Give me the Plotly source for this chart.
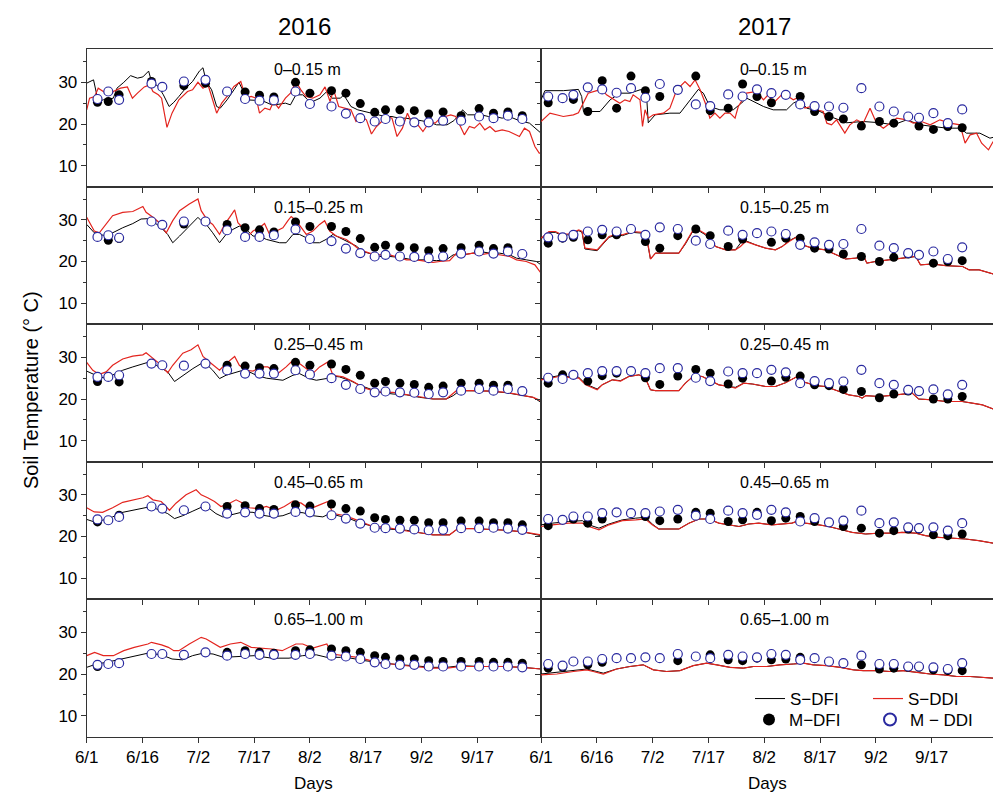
import plotly.graph_objects as go
from plotly.subplots import make_subplots

W, H = 993, 792
FONT = "Liberation Sans, Arial, sans-serif"

# ---------------- tick labels / categories ----------------
TICK_DAYS = [0, 15.5, 31, 46.5, 62, 77.5, 93, 108.5]
TICK_LABELS = ["6/1", "6/16", "7/2", "7/17", "8/2", "8/17", "9/2", "9/17"]
DEPTHS = ["0\u20130.15 m", "0.15\u20130.25 m", "0.25\u20130.45 m", "0.45\u20130.65 m", "0.65\u20131.00 m"]
YEARS = ["2016", "2017"]

# measurement days (days after 6/1)
DAYS_2016 = [3, 6, 9, 18, 21, 27, 33, 39, 44, 48, 52, 58, 62, 68, 72, 76, 80, 83, 87, 91, 95, 99, 104, 109, 113, 117, 121]
DAYS_2017 = [2, 6, 9, 13, 17, 21, 25, 29, 33, 38, 43, 47, 52, 56, 60, 64, 68, 72, 76, 80, 84, 89, 94, 98, 102, 105, 109, 113, 117]

# ---------------- 2016, 0-0.15 m ----------------
S_DFI_16_1 = [(0,29.8),(1.9,30.6),(3.2,25.4),(4.6,25.8),(7.4,26.2),(8.4,28.6),(10.3,30.0),(12.2,31.6),(14.1,31.0),(15.6,31.3),(17.2,32.7),(18.0,30.2),(19.9,29.0),(21.3,27.0),(22.9,24.2),(24.2,25.2),(25.6,26.6),(27.5,28.6),(29.4,30.2),(31.3,32.7),(32.3,33.5),(33.2,30.2),(34.7,28.2),(36.1,24.2),(37.1,23.8),(39.0,25.8),(40.9,28.2),(42.3,30.0),(43.3,28.2),(44.2,25.8),(46.6,25.7),(48.5,25.7),(51.4,24.6),(52.3,24.6),(55.2,25.0),(56.6,24.6),(58.1,27.0),(60.0,27.0),(61.4,25.8),(62.8,25.4),(64.8,26.2),(66.7,27.8),(68.1,26.2),(70.5,26.2),(71.4,27.0),(73.4,24.2),(75.3,23.4),(77.2,23.0),(79.1,22.6),(81.0,22.2),(82.9,21.8),(84.8,21.8),(86.7,21.4),(88.6,21.4),(90.5,21.2),(92.9,20.8),(95.3,20.4),(97.2,19.8),(100.1,19.8),(102.0,20.8),(103.9,22.6),(104.4,23.4),(105.8,22.2),(107.7,22.2),(109.6,22.2),(111.6,21.8),(113.5,21.8),(115.4,21.4),(117.3,21.8),(120.2,20.8),(123.0,20.2),(126.2,17.8)]
S_DDI_16_1 = [(0,23.4),(0.8,26.2),(2.2,26.6),(3.2,28.6),(4.6,27.8),(6.5,27.0),(7.4,27.8),(9.4,28.6),(11.3,28.9),(12.7,26.2),(14.1,27.4),(16.0,28.9),(17.5,29.4),(18.4,27.8),(19.9,27.0),(20.8,26.2),(22.3,19.2),(23.7,22.6),(25.6,25.8),(26.6,26.6),(28.0,27.8),(29.4,28.2),(30.9,30.0),(32.3,28.6),(33.7,29.4),(34.7,26.6),(36.1,22.6),(37.5,25.0),(39.0,26.6),(40.9,29.0),(42.8,30.2),(44.2,26.2),(45.7,26.6),(47.1,26.2),(48.0,22.6),(49.5,23.8),(50.9,23.4),(51.9,25.4),(53.3,23.8),(55.2,26.2),(56.6,27.4),(58.1,30.2),(59.5,28.2),(60.9,26.6),(62.8,26.2),(64.8,27.0),(66.2,28.9),(67.6,25.4),(68.6,28.2),(70.0,24.2),(71.4,23.8),(73.4,23.4),(74.8,20.6),(76.2,21.8),(77.7,21.0),(79.1,17.6),(80.5,19.4),(81.9,20.6),(83.4,21.8),(84.8,21.4),(86.2,17.0),(87.7,19.0),(89.1,22.6),(90.5,19.8),(92.0,19.8),(93.4,18.2),(95.3,20.6),(96.8,20.2),(98.2,21.4),(99.6,21.8),(101.1,22.2),(102.5,21.8),(103.9,19.4),(104.9,17.4),(106.3,19.4),(107.7,19.0),(109.2,20.2),(110.6,18.6),(112.0,19.4),(113.5,18.2),(115.4,18.6),(117.3,18.2),(119.2,17.4),(120.2,17.0),(121.6,19.0),(123.0,18.2),(124.5,14.6),(125.7,13.0),(126.2,13.0)]
M_DFI_16_1 = [25.2,25.4,27.0,30.2,None,29.2,29.8,None,27.7,26.9,26.5,30.0,27.4,28.0,27.4,24.9,22.8,23.4,23.4,23.2,22.4,22.9,22.0,23.7,22.6,22.9,22.0]
M_DDI_16_1 = [26.0,27.8,25.8,29.7,28.9,30.2,30.6,27.8,26.0,25.6,25.7,27.8,24.8,24.2,22.5,21.4,20.6,21.2,20.6,20.4,20.4,20.8,20.8,21.8,21.4,22.0,21.2]

# ---------------- 2017, 0-0.15 m ----------------
S_DFI_17_1 = [(0,25.8),(1.1,28.0),(6.2,28.0),(10.4,28.3),(11.3,26.6),(11.8,23.0),(16.4,23.0),(19.2,25.8),(21.9,27.4),(24.7,27.4),(27.5,28.2),(28.9,28.3),(29.4,25.8),(29.8,20.3),(31.7,22.2),(35.8,22.6),(38.6,22.6),(41.4,25.8),(43.7,28.3),(45.1,27.4),(46.9,24.2),(49.7,23.4),(53.4,23.4),(56.2,25.4),(57.1,26.2),(58.1,25.8),(61.8,24.2),(64.5,23.4),(68.2,23.4),(70.1,25.0),(71.9,25.8),(73.8,23.8),(77.5,23.0),(80.3,21.8),(84.9,20.3),(89.5,20.6),(94.2,20.3),(97.9,19.8),(101.6,21.0),(105.3,19.8),(109.0,19.4),(112.7,19.0),(116.4,19.0),(118.2,17.8),(121.9,17.8),(124.7,16.6),(125.6,16.8)]
S_DDI_17_1 = [(0,20.6),(2.5,22.6),(6.2,21.8),(9.0,22.2),(10.4,22.7),(11.8,25.0),(13.1,27.4),(15.5,28.0),(16.9,28.3),(18.2,27.0),(20.6,25.8),(21.9,25.0),(23.3,25.8),(24.7,25.4),(25.6,27.0),(27.5,25.8),(28.2,19.4),(28.9,23.4),(29.8,21.4),(31.2,22.2),(34.0,22.6),(35.8,23.8),(37.7,28.2),(40.0,30.2),(41.4,29.0),(42.8,30.6),(44.2,28.2),(46.0,24.2),(46.9,21.4),(48.3,22.6),(49.7,21.4),(51.1,22.6),(52.5,22.6),(53.9,21.4),(54.8,24.2),(57.1,27.4),(59.9,27.8),(61.8,25.8),(63.1,27.0),(64.5,25.0),(67.3,27.4),(70.1,25.8),(71.9,26.6),(73.3,23.8),(75.2,24.2),(76.6,23.4),(78.4,23.0),(79.4,20.2),(80.7,19.8),(82.1,21.0),(84.4,17.8),(85.8,19.8),(87.7,21.0),(89.5,20.2),(91.4,23.8),(93.2,20.2),(95.1,19.0),(96.9,20.2),(98.8,21.4),(101.6,21.0),(103.4,20.2),(105.7,20.6),(108.1,19.8),(110.8,21.0),(113.6,20.2),(116.4,19.8),(117.8,15.4),(119.2,17.4),(121.0,17.8),(122.4,15.4),(124.3,13.8),(125.6,15.8)]
M_DFI_17_1 = [25.1,None,25.9,23.0,30.4,23.8,31.5,28.0,26.6,28.3,31.5,23.2,23.8,29.6,26.6,25.1,None,26.6,23.0,21.8,21.2,19.5,20.6,20.2,None,19.5,18.7,19.4,19.1]
M_DDI_17_1 = [26.6,26.2,27.0,28.8,28.3,27.5,28.6,26.3,29.6,28.2,24.7,24.3,27.1,26.6,28.3,27.4,27.0,24.7,24.3,24.2,23.9,28.6,24.2,23.0,21.8,21.5,22.6,20.2,23.5]

# ---------------- 2016, 0.15-0.25 m ----------------
S_DFI_16_2 = [(0,28.9),(2.1,26.9),(5.4,26.1),(7.2,26.9),(10.0,28.1),(12.8,29.1),(15.1,30.2),(17.4,30.3),(18.8,29.3),(20.7,28.1),(22.5,26.5),(23.9,24.5),(25.8,26.1),(27.6,27.7),(29.5,29.3),(30.9,30.6),(31.8,29.8),(33.2,28.9),(35.0,26.9),(36.9,24.5),(38.7,26.5),(40.6,27.7),(42.4,28.5),(44.3,27.7),(46.2,26.1),(48.0,26.1),(49.9,25.3),(51.7,24.9),(53.6,24.5),(55.4,24.5),(57.3,26.5),(59.1,26.5),(61.0,25.7),(62.8,24.5),(64.7,24.5),(66.5,25.3),(68.4,26.5),(71.2,25.3),(73.0,24.5),(74.9,23.7),(76.7,22.4),(79.5,21.6),(81.4,21.2),(84.2,21.2),(86.9,21.0),(90.6,20.4),(94.3,20.4),(97.1,20.2),(99.9,20.4),(101.8,21.6),(104.5,21.6),(107.3,22.0),(109.2,22.4),(112.0,22.0),(114.7,22.0),(117.5,21.6),(119.4,20.8),(122.1,20.4),(124.9,20.0),(126.2,19.2)]
S_DDI_16_2 = [(0,30.6),(2.1,27.3),(3.5,26.9),(5.4,28.9),(7.2,31.0),(10.0,31.8),(12.8,32.0),(15.6,33.2),(16.5,31.8),(18.4,30.6),(20.2,29.3),(22.1,26.9),(23.9,29.8),(25.8,32.2),(28.5,33.8),(30.9,35.0),(31.8,32.2),(33.6,29.8),(35.0,28.9),(36.9,26.5),(38.3,28.9),(39.7,30.6),(41.1,32.4),(42.0,29.3),(43.4,28.1),(44.8,26.1),(46.2,27.3),(48.0,28.1),(49.4,29.1),(50.8,26.5),(52.6,27.3),(54.5,28.1),(55.9,29.8),(56.8,30.8),(58.2,29.8),(59.6,28.1),(61.0,26.5),(62.8,27.3),(64.7,28.9),(66.1,29.8),(67.5,27.3),(69.3,26.1),(72.1,25.3),(74.0,24.1),(75.8,22.8),(78.6,22.0),(81.4,21.6),(84.2,21.6),(86.0,21.2),(88.8,20.4),(91.6,20.4),(94.3,20.0),(96.2,19.8),(98.1,20.0),(100.8,20.2),(102.7,22.0),(104.5,21.6),(107.3,22.0),(109.2,21.6),(112.0,22.0),(114.7,21.6),(117.5,21.2),(119.4,20.4),(122.1,20.0),(124.5,19.2),(126.2,17.2)]
M_DFI_16_2 = [None,25.1,25.5,None,None,29.0,29.6,28.9,28.1,27.6,27.1,29.5,28.4,28.4,27.2,25.5,23.4,23.9,23.5,23.3,22.6,23.1,23.3,23.9,23.1,23.3,None]
M_DDI_16_2 = [25.9,26.3,25.7,29.6,28.8,29.6,29.6,27.5,25.9,25.9,26.3,27.7,25.4,24.9,23.1,22.0,21.2,21.6,21.2,21.1,20.8,21.2,21.9,22.4,21.9,22.4,21.8]

# ---------------- 2017, 0.15-0.25 m ----------------
S_DFI_17_2 = [(0,25.4),(2.2,27.0),(4.0,27.0),(5.4,26.4),(7.7,26.4),(10.5,27.4),(11.4,27.0),(12.2,23.0),(15.6,22.6),(17.0,24.0),(18.9,25.8),(21.2,26.4),(22.6,26.2),(25.3,27.0),(28.1,26.8),(29.5,25.0),(30.4,20.6),(31.8,22.0),(38.3,22.0),(40.1,24.2),(42.0,27.0),(43.8,27.4),(45.7,26.4),(46.6,25.4),(48.5,23.6),(51.3,22.8),(54.0,22.8),(55.4,24.4),(56.8,25.0),(59.6,24.0),(62.4,23.2),(65.1,22.8),(67.0,23.6),(68.9,25.0),(71.2,26.0),(72.6,24.0),(75.3,23.2),(79.0,22.8),(81.8,21.6),(84.6,20.6),(87.4,20.8),(89.7,21.2),(90.5,19.6),(92.9,20.0),(96.6,20.4),(100.3,20.8),(104.1,21.2),(105.4,19.2),(108.7,19.4),(112.4,19.0),(115.2,18.8),(117.1,18.8),(118.9,18.0),(121.7,18.0),(125.6,17.0)]
S_DDI_17_2 = [(0,25.6),(2.2,27.2),(4.0,27.2),(5.4,26.6),(7.7,26.6),(10.5,27.6),(11.4,27.2),(12.2,23.2),(15.6,22.8),(17.0,24.2),(18.9,26.0),(21.2,26.6),(22.6,26.4),(25.3,27.2),(28.1,27.0),(29.5,25.2),(30.4,20.6),(31.8,22.0),(38.3,22.0),(40.1,24.4),(42.0,27.2),(43.8,27.6),(45.7,26.6),(46.6,25.6),(48.5,23.6),(51.3,22.8),(54.0,22.8),(55.4,23.6),(56.8,24.8),(59.6,24.0),(62.4,23.2),(65.1,22.8),(67.0,23.6),(68.9,24.8),(71.2,26.0),(72.6,24.0),(75.3,23.2),(79.0,22.8),(81.8,21.6),(84.6,20.6),(87.4,20.8),(89.7,21.2),(90.5,19.6),(92.9,20.0),(96.6,20.4),(100.3,20.8),(104.1,21.2),(105.4,19.2),(108.7,19.4),(112.4,19.0),(115.2,18.8),(117.1,18.8),(118.9,18.0),(121.7,18.0),(125.6,17.0)]
M_DFI_17_2 = [24.4,25.6,25.8,25.2,26.4,26.4,None,24.8,23.2,26.2,27.8,26.2,23.6,25.4,None,24.6,25.6,25.6,23.2,23.0,21.8,21.2,20.0,21.0,21.8,21.6,19.6,20.0,20.2]
M_DDI_17_2 = [25.8,25.8,26.4,27.2,27.6,27.2,27.8,26.4,28.2,27.8,25.0,24.2,27.4,26.4,26.8,27.2,26.6,24.0,24.6,24.0,24.2,27.8,23.8,23.2,22.0,21.6,22.4,20.6,23.4]

# ---------------- 2016, 0.25-0.45 m ----------------
S_DFI_16_3 = [(0,26.7),(1.7,26.1),(3.5,25.3),(5.4,25.0),(7.2,25.7),(10.0,26.9),(12.8,27.7),(15.6,28.5),(17.4,28.9),(19.3,28.1),(21.1,27.3),(22.5,26.5),(24.4,24.2),(26.7,25.7),(29.5,27.3),(31.8,28.5),(33.6,28.1),(35.0,26.9),(36.9,24.9),(38.7,25.7),(41.5,26.5),(43.4,26.9),(45.2,26.5),(47.1,25.7),(49.9,25.0),(52.6,24.7),(54.5,24.5),(57.3,25.7),(59.1,26.1),(61.9,24.9),(63.8,24.5),(66.5,24.9),(68.4,25.5),(70.2,25.3),(73.0,24.5),(75.8,23.3),(78.6,22.4),(81.4,21.6),(85.1,21.2),(88.8,21.0),(92.5,20.4),(96.2,20.0),(99.9,20.0),(101.8,20.8),(103.6,22.0),(107.3,22.0),(112.0,21.9),(116.6,21.5),(120.3,21.0),(124.0,20.4),(126.2,19.2)]
S_DDI_16_3 = [(0,28.8),(1.7,26.9),(3.5,25.9),(5.4,26.5),(7.2,28.1),(10.0,29.6),(12.8,30.3),(15.6,30.6),(16.5,31.1),(17.9,30.2),(20.2,28.5),(22.5,26.3),(23.9,28.1),(26.7,31.0),(29.0,31.8),(30.9,33.0),(32.3,30.2),(34.1,28.9),(36.0,27.5),(36.9,26.9),(38.7,28.5),(41.1,30.2),(42.4,28.1),(44.3,26.9),(46.2,26.7),(48.5,27.7),(50.3,27.7),(53.1,26.1),(55.4,27.7),(57.3,29.3),(59.1,28.5),(61.0,27.3),(62.8,26.1),(64.7,27.7),(67.0,28.9),(68.4,25.7),(71.2,25.3),(74.0,24.2),(76.7,22.8),(79.5,22.0),(82.3,21.6),(85.1,21.6),(87.9,21.2),(90.6,20.8),(93.4,20.4),(96.2,20.0),(99.9,20.0),(102.7,22.0),(107.3,22.0),(112.0,21.9),(116.6,21.6),(120.3,21.0),(124.0,20.4),(126.2,19.6)]
M_DFI_16_3 = [24.2,None,24.1,None,None,None,None,28.1,27.9,27.5,27.3,28.8,28.1,28.4,27.1,25.7,23.8,24.2,23.8,23.5,22.8,23.1,23.8,23.8,23.3,23.3,None]
M_DDI_16_3 = [25.3,25.3,25.7,28.5,28.1,28.0,28.5,26.9,26.1,26.1,26.1,26.9,25.9,25.0,23.4,22.4,21.6,21.8,21.6,21.5,21.2,21.6,22.0,22.4,22.0,22.4,21.9]

# ---------------- 2017, 0.25-0.45 m ----------------
S_DFI_17_3 = [(0,24.8),(2.2,25.2),(5.0,25.6),(7.7,25.4),(10.5,25.2),(12.4,23.6),(15.6,22.4),(17.0,23.4),(19.8,24.6),(22.1,24.4),(24.4,25.4),(27.2,25.8),(29.0,25.0),(30.4,22.2),(31.8,22.0),(38.3,22.0),(40.1,23.8),(42.5,25.6),(44.8,25.4),(46.6,24.6),(49.4,23.4),(52.2,23.0),(54.0,22.8),(56.3,23.8),(58.7,23.6),(62.4,23.0),(65.1,23.0),(67.9,23.9),(71.2,25.4),(72.6,24.2),(76.3,23.2),(79.0,23.0),(81.8,22.2),(85.5,21.0),(88.3,20.6),(89.2,20.2),(90.2,20.8),(93.9,20.6),(96.6,20.8),(100.3,21.1),(103.1,21.4),(104.9,20.0),(108.7,19.8),(112.4,19.4),(117.0,19.4),(119.8,19.0),(122.6,18.6),(125.6,17.6)]
S_DDI_17_3 = [(0,24.6),(2.2,25.0),(5.0,25.4),(7.7,25.2),(10.5,25.0),(12.4,23.4),(15.6,22.2),(17.0,23.4),(19.8,24.6),(22.1,24.3),(24.4,25.4),(27.2,25.8),(29.0,25.0),(30.4,22.2),(31.8,22.0),(38.3,22.0),(40.1,23.8),(42.5,25.6),(44.8,25.4),(46.6,24.6),(49.4,23.4),(52.2,23.0),(54.0,22.6),(56.3,23.8),(58.7,23.6),(62.4,23.0),(65.1,23.0),(67.9,23.9),(71.2,25.4),(72.6,24.2),(76.3,23.2),(79.0,23.0),(81.8,22.2),(85.5,21.0),(88.3,20.6),(89.2,20.2),(90.2,20.8),(93.9,20.6),(96.6,20.8),(100.3,21.1),(103.1,21.4),(104.9,20.0),(108.7,19.8),(112.4,19.4),(117.0,19.4),(119.8,19.0),(122.6,18.6),(125.6,17.6)]
M_DFI_17_3 = [23.8,25.8,None,24.3,25.6,26.2,None,25.1,23.5,25.5,27.1,26.2,23.6,25.0,None,24.3,25.2,25.5,23.4,23.2,22.3,21.8,20.3,21.2,21.9,21.8,20.0,20.0,20.6]
M_DDI_17_3 = [25.1,24.8,25.8,26.2,26.7,26.7,26.7,26.2,27.4,27.4,25.1,24.3,26.6,26.2,26.2,27.0,26.4,23.8,24.3,23.8,24.2,27.0,23.8,23.4,22.2,21.9,22.3,21.1,23.4]

# ---------------- 2016, 0.45-0.65 m ----------------
S_DFI_16_4 = [(0,24.1),(2.1,23.5),(4.4,23.9),(7.2,24.7),(10.0,25.8),(12.8,26.3),(15.6,26.9),(17.9,27.2),(20.2,26.3),(22.5,25.5),(24.4,24.3),(26.7,25.0),(29.5,26.1),(32.3,27.2),(34.1,26.7),(35.9,25.5),(37.8,24.7),(40.6,25.3),(43.4,25.9),(46.2,25.8),(48.9,25.1),(51.7,24.7),(54.5,25.0),(57.3,25.9),(60.1,25.7),(62.8,25.0),(65.6,24.7),(67.5,25.5),(70.2,25.0),(73.0,24.3),(75.8,23.3),(78.6,22.7),(81.4,22.0),(85.1,21.7),(88.8,21.5),(92.5,20.9),(96.2,20.4),(100.8,20.4),(103.1,21.9),(107.3,21.9),(112.0,21.7),(116.6,21.5),(121.2,21.1),(126.2,20.2)]
S_DDI_16_4 = [(0,26.9),(2.1,25.9),(4.4,25.8),(7.2,26.9),(10.0,28.2),(12.8,28.8),(15.6,29.3),(17.0,29.8),(18.4,28.8),(20.7,28.4),(23.0,26.3),(24.8,28.0),(27.6,30.0),(30.4,31.2),(31.8,30.0),(33.6,29.3),(35.5,28.4),(37.3,27.2),(39.7,28.0),(41.5,28.8),(43.4,28.0),(45.2,26.9),(48.0,26.7),(49.9,27.2),(52.6,26.3),(54.9,27.2),(57.3,28.5),(59.6,28.0),(61.9,26.6),(64.7,27.6),(67.0,28.4),(68.4,25.5),(71.2,25.1),(74.0,24.3),(76.7,23.3),(79.5,22.4),(82.3,22.3),(86.0,21.7),(89.7,21.2),(92.5,20.9),(96.2,20.4),(100.8,20.4),(103.1,21.9),(107.3,21.9),(112.0,21.7),(116.6,21.5),(121.2,21.1),(126.2,20.4)]
M_DFI_16_4 = [23.5,None,25.1,None,None,None,None,27.2,27.4,26.7,26.5,27.6,27.3,27.8,26.7,26.1,24.5,24.1,23.9,23.9,23.3,23.3,23.7,23.7,23.3,23.3,22.8]
M_DDI_16_4 = [24.1,23.9,24.7,27.2,26.7,26.3,27.2,25.5,25.8,25.5,25.5,25.9,25.8,25.1,24.3,23.1,22.1,22.0,21.9,21.7,21.5,21.6,22.0,22.0,22.1,21.9,21.6]

# ---------------- 2017, 0.45-0.65 m ----------------
S_DFI_17_4 = [(0,22.8),(3.1,23.2),(7.7,23.6),(11.5,23.8),(13.3,22.8),(16.1,22.0),(18.9,23.0),(22.6,24.0),(26.3,24.4),(29.0,24.6),(30.9,23.0),(32.7,21.8),(38.3,21.8),(41.1,23.2),(43.9,24.2),(46.6,24.2),(49.4,23.2),(52.2,22.8),(55.0,22.4),(57.7,23.0),(60.5,23.2),(64.2,22.8),(66.9,23.0),(69.7,23.2),(71.6,23.8),(73.4,23.2),(77.2,22.8),(79.9,22.4),(82.7,21.8),(86.4,21.0),(90.2,20.6),(93.9,20.8),(97.5,20.8),(100.3,21.0),(104.1,20.8),(106.8,20.2),(110.5,19.8),(114.2,19.6),(117.9,19.4),(121.6,19.0),(125.6,18.4)]
S_DDI_17_4 = [(0,22.4),(3.1,22.8),(7.7,23.2),(11.5,23.2),(13.3,22.4),(16.1,21.6),(18.9,22.8),(22.6,23.8),(26.3,24.0),(29.0,24.2),(30.9,22.8),(32.7,21.8),(38.3,21.8),(41.1,23.2),(43.9,24.2),(46.6,24.2),(49.4,23.2),(52.2,22.8),(55.0,22.4),(57.7,23.0),(60.5,23.2),(64.2,22.8),(66.9,23.0),(69.7,23.2),(71.6,23.8),(73.4,23.2),(77.2,22.8),(79.9,22.4),(82.7,21.8),(86.4,21.0),(90.2,20.6),(93.9,20.8),(97.5,20.8),(100.3,21.0),(104.1,20.8),(106.8,20.2),(110.5,19.8),(114.2,19.6),(117.9,19.4),(121.6,19.0),(125.6,18.4)]
M_DFI_17_4 = [22.6,None,24.2,23.2,24.2,None,None,24.8,23.8,24.2,25.8,25.6,23.6,24.0,25.8,23.8,24.4,24.8,23.6,None,22.4,22.0,20.8,21.4,21.8,21.8,20.4,20.2,20.6]
M_DDI_17_4 = [24.2,24.0,24.8,24.8,25.6,25.8,25.6,25.6,26.0,26.4,25.0,24.2,26.2,25.6,25.2,26.4,25.8,23.6,24.4,23.4,23.8,26.2,23.2,23.4,22.2,22.0,22.2,21.4,23.2]

# ---------------- 2016, 0.65-1.00 m ----------------
S_DFI_16_5 = [(0,21.6),(2.7,22.4),(5.5,22.8),(9.4,23.6),(13.2,24.4),(17.0,25.0),(20.8,24.6),(23.7,23.6),(26.6,23.4),(29.4,24.4),(32.3,25.0),(35.1,24.8),(38.0,24.0),(42.8,24.2),(46.6,24.4),(51.4,23.8),(56.2,23.8),(60.0,24.4),(63.8,24.6),(66.7,24.0),(70.5,24.0),(73.4,23.8),(77.2,23.2),(81.0,22.8),(84.8,22.4),(90.5,22.0),(96.3,21.6),(100.1,21.6),(103.9,22.0),(109.6,21.8),(115.4,21.8),(121.1,21.6),(126.2,21.2)]
S_DDI_16_5 = [(0,24.4),(2.2,25.2),(4.6,24.4),(7.4,24.4),(10.3,25.6),(13.2,26.4),(17.0,27.2),(18.0,27.6),(20.8,27.0),(22.7,26.4),(24.2,25.6),(25.6,25.6),(28.5,27.2),(31.8,28.8),(33.2,28.4),(37.1,26.4),(39.9,27.2),(42.8,27.6),(45.7,26.4),(48.5,26.2),(51.4,26.0),(54.3,25.6),(58.1,27.2),(60.0,27.2),(62.8,26.2),(66.7,27.2),(68.1,24.8),(71.4,24.4),(75.3,24.0),(78.1,23.4),(81.0,22.6),(84.8,22.4),(90.5,21.8),(96.3,21.4),(100.1,21.4),(103.9,21.8),(109.6,21.8),(115.4,21.8),(121.1,21.6),(126.2,21.2)]
M_DFI_16_5 = [21.8,None,None,None,None,None,None,25.2,25.6,25.2,25.0,25.6,25.8,26.0,25.6,25.2,24.4,24.0,23.6,23.6,23.2,23.0,23.0,23.0,22.8,22.8,22.6]
M_DDI_16_5 = [22.2,22.4,22.6,24.8,24.8,24.6,25.2,24.4,24.8,24.6,24.6,24.6,24.8,24.4,24.2,23.6,22.8,22.4,22.2,22.2,21.8,21.8,21.8,21.8,21.8,21.8,21.6]

# ---------------- 2017, 0.65-1.00 m ----------------
S_DFI_17_5 = [(0,20.0),(4.4,20.4),(9.0,20.8),(12.7,21.2),(15.5,20.6),(17.3,20.2),(21.0,21.2),(24.7,21.8),(28.4,22.2),(31.2,21.0),(34.9,20.6),(38.6,20.8),(42.3,22.0),(46.0,22.6),(48.8,22.2),(52.5,21.6),(56.2,21.4),(59.0,21.8),(62.7,21.8),(66.4,22.2),(70.1,22.4),(72.9,22.6),(75.6,22.2),(79.4,22.0),(83.1,21.6),(86.8,21.0),(89.5,20.8),(93.2,20.8),(96.9,20.6),(100.6,20.8),(104.4,20.4),(108.1,20.0),(111.8,19.8),(115.5,19.4),(119.2,19.4),(125.6,19.0)]
S_DDI_17_5 = [(0,19.8),(4.4,20.0),(9.0,20.6),(12.7,21.0),(14.5,20.6),(17.3,20.0),(21.0,21.2),(24.7,21.8),(28.4,22.2),(31.2,21.0),(34.9,20.6),(38.6,20.8),(42.3,22.0),(46.0,22.6),(48.8,22.2),(52.5,21.6),(56.2,21.4),(59.0,21.8),(62.7,21.8),(66.4,22.2),(70.1,22.4),(72.9,22.6),(75.6,22.2),(79.4,22.0),(83.1,21.6),(86.8,21.0),(89.5,20.8),(93.2,20.8),(96.9,20.6),(100.6,20.8),(104.4,20.4),(108.1,20.0),(111.8,19.8),(115.5,19.4),(119.2,19.4),(125.6,19.0)]
M_DFI_17_5 = [21.4,21.6,None,22.2,22.8,None,None,None,None,23.2,None,24.6,23.4,23.2,23.8,23.4,23.6,24.0,None,None,None,22.2,21.2,21.4,21.6,21.6,21.0,20.8,20.8]
M_DDI_17_5 = [22.4,22.0,23.0,23.0,23.6,23.8,23.8,24.0,23.8,24.8,24.2,23.8,24.6,24.2,24.0,24.8,24.6,23.4,23.8,23.0,22.6,24.4,22.4,22.4,21.8,21.8,21.6,21.2,22.6]

# ---------------- assemble ----------------
PANELS = [
    (1, 1, S_DFI_16_1, S_DDI_16_1, DAYS_2016, M_DFI_16_1, M_DDI_16_1),
    (1, 2, S_DFI_17_1, S_DDI_17_1, DAYS_2017, M_DFI_17_1, M_DDI_17_1),
    (2, 1, S_DFI_16_2, S_DDI_16_2, DAYS_2016, M_DFI_16_2, M_DDI_16_2),
    (2, 2, S_DFI_17_2, S_DDI_17_2, DAYS_2017, M_DFI_17_2, M_DDI_17_2),
    (3, 1, S_DFI_16_3, S_DDI_16_3, DAYS_2016, M_DFI_16_3, M_DDI_16_3),
    (3, 2, S_DFI_17_3, S_DDI_17_3, DAYS_2017, M_DFI_17_3, M_DDI_17_3),
    (4, 1, S_DFI_16_4, S_DDI_16_4, DAYS_2016, M_DFI_16_4, M_DDI_16_4),
    (4, 2, S_DFI_17_4, S_DDI_17_4, DAYS_2017, M_DFI_17_4, M_DDI_17_4),
    (5, 1, S_DFI_16_5, S_DDI_16_5, DAYS_2016, M_DFI_16_5, M_DDI_16_5),
    (5, 2, S_DFI_17_5, S_DDI_17_5, DAYS_2017, M_DFI_17_5, M_DDI_17_5),
]

RED = "#e3241e"
BLUE = "#2a2aa0"

fig = make_subplots(rows=5, cols=2, horizontal_spacing=0, vertical_spacing=0)

for row, col, sdfi, sddi, mdays, mdfi, mddi in PANELS:
    show = (row == 5 and col == 2)
    fig.add_trace(go.Scatter(x=[p[0] for p in sdfi], y=[p[1] for p in sdfi], mode="lines",
                             line=dict(color="black", width=1), name="S\u2212DFI",
                             showlegend=show, legend="legend"), row=row, col=col)
    fig.add_trace(go.Scatter(x=[p[0] for p in sddi], y=[p[1] for p in sddi], mode="lines",
                             line=dict(color=RED, width=1.2), name="S\u2212DDI",
                             showlegend=show, legend="legend"), row=row, col=col)
    fig.add_trace(go.Scatter(x=mdays, y=mdfi, mode="markers",
                             marker=dict(symbol="circle", size=9, color="black"),
                             name="M\u2212DFI", showlegend=show, legend="legend2"), row=row, col=col)
    fig.add_trace(go.Scatter(x=mdays, y=mddi, mode="markers",
                             marker=dict(symbol="circle", size=9, color="white",
                                         line=dict(color=BLUE, width=1.2)),
                             name="M \u2212 DDI", showlegend=show, legend="legend2"), row=row, col=col)

# geometry (pixels)
LEFT_X0, MID_X, RIGHT_X1 = 86.7, 541.0, 993.0
ROW_TOPS = [49, 186.5, 324, 461.5, 599, 736.5]
X_RANGES = {1: [0, (MID_X - LEFT_X0) / 3.6], 2: [0, (RIGHT_X1 - MID_X) / 3.6]}

for row in range(1, 6):
    y0 = 1 - ROW_TOPS[row] / H
    y1 = 1 - ROW_TOPS[row - 1] / H
    for col in (1, 2):
        xd = [LEFT_X0 / W, MID_X / W] if col == 1 else [MID_X / W, RIGHT_X1 / W]
        fig.update_xaxes(domain=xd, range=X_RANGES[col], tickvals=TICK_DAYS, ticktext=TICK_LABELS,
                         ticks="outside", ticklen=5, tickwidth=1, tickcolor="#333",
                         showline=True, linecolor="#333", linewidth=1, mirror=True,
                         showgrid=False, zeroline=False, showticklabels=(row == 5),
                         tickfont=dict(size=17, color="black", family=FONT),
                         row=row, col=col)
        fig.update_yaxes(domain=[y0, y1], range=[5, 38], tickvals=[10, 20, 30],
                         ticks="outside", ticklen=5, tickwidth=1, tickcolor="#333",
                         minor=dict(tickvals=[15, 25, 35], ticks="outside", ticklen=3,
                                    tickcolor="#333", showgrid=False),
                         showline=True, linecolor="#333", linewidth=1, mirror=True,
                         showgrid=False, zeroline=False, showticklabels=(col == 1),
                         tickfont=dict(size=17, color="black", family=FONT),
                         row=row, col=col)

annotations = []
for i, depth in enumerate(DEPTHS):
    yc = 1 - (ROW_TOPS[i] + 20.5) / H
    annotations.append(dict(text=depth, x=272 / W, y=yc, xref="paper", yref="paper",
                            xanchor="left", yanchor="middle", showarrow=False,
                            font=dict(size=16, color="black", family=FONT)))
    annotations.append(dict(text=depth, x=738 / W, y=yc, xref="paper", yref="paper",
                            xanchor="left", yanchor="middle", showarrow=False,
                            font=dict(size=16, color="black", family=FONT)))

for year, xc in zip(YEARS, [304, 764]):
    annotations.append(dict(text=year, x=xc / W, y=1 - 26 / H, xref="paper", yref="paper",
                            xanchor="center", yanchor="middle", showarrow=False,
                            font=dict(size=24, color="black", family=FONT)))

for xc in [(LEFT_X0 + MID_X) / 2, (MID_X + RIGHT_X1) / 2]:
    annotations.append(dict(text="Days", x=xc / W, y=1 - 783 / H, xref="paper", yref="paper",
                            xanchor="center", yanchor="middle", showarrow=False,
                            font=dict(size=17, color="black", family=FONT)))

annotations.append(dict(text="Soil Temperature (\u00b0 C)", x=31 / W, y=1 - 390 / H,
                        xref="paper", yref="paper", xanchor="center", yanchor="middle",
                        textangle=-90, showarrow=False,
                        font=dict(size=20, color="black", family=FONT)))

fig.update_layout(
    width=W, height=H, template="none",
    margin=dict(l=0, r=0, t=0, b=0),
    paper_bgcolor="white", plot_bgcolor="white",
    font=dict(family=FONT, color="black"),
    annotations=annotations,
    legend=dict(orientation="h", x=750 / W, xanchor="left", y=1 - 681 / H, yanchor="top",
                entrywidth=73, font=dict(size=17, color="black", family=FONT),
                bgcolor="rgba(0,0,0,0)", itemsizing="trace", traceorder="normal"),
    legend2=dict(orientation="h", x=749 / W, xanchor="left", y=1 - 702 / H, yanchor="top",
                 entrywidth=76, font=dict(size=17, color="black", family=FONT),
                 bgcolor="rgba(0,0,0,0)", itemsizing="constant", traceorder="normal"),
)

fig.write_html("out.html")
